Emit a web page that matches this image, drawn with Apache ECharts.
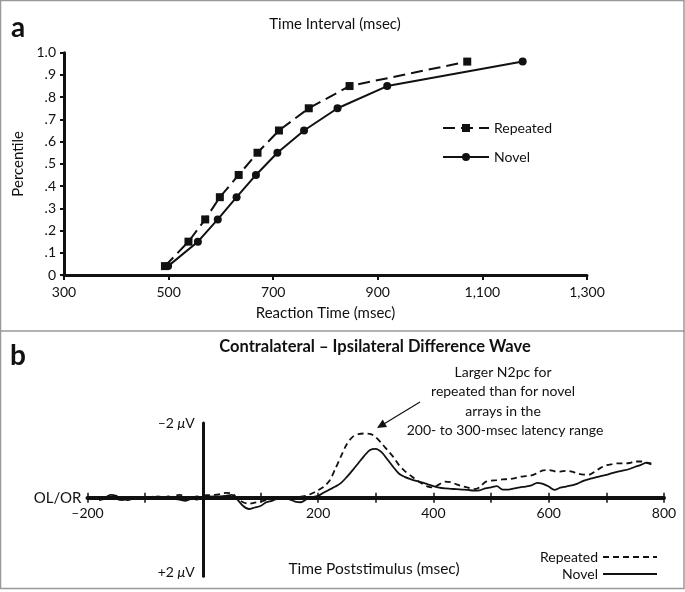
<!DOCTYPE html>
<html>
<head>
<meta charset="utf-8">
<script src="https://cdn.jsdelivr.net/npm/echarts@6/dist/echarts.min.js"></script>
<style>
html,body{margin:0;padding:0;background:#fff;}
#c{width:685px;height:592px;}
</style>
</head>
<body>
<div id="c"></div>
<script>
// ---- Panel a data ----
const percentiles = [0.04, 0.15, 0.25, 0.35, 0.45, 0.55, 0.65, 0.75, 0.85, 0.96];
const rtRepeated = [493, 538, 570, 598, 634, 670, 711, 768, 846, 1071];
const rtNovel = [499, 556, 594, 630, 667, 708, 759, 823, 918, 1177];
const rtTicks = [300, 500, 700, 900, 1100, 1300];

// ---- Panel b data (time in msec, voltage in microvolts; negative up) ----
const waveTime = [-180,-170,-160,-150,-140,-130,-120,-110,-100,-90,-80,-70,-60,-50,-40,-30,-20,-10,
  0,10,20,30,40,50,60,70,80,90,100,110,120,130,140,150,160,170,180,190,
  200,210,220,230,240,250,260,270,280,290,300,310,320,330,340,350,360,370,380,390,
  400,410,420,430,440,450,460,470,480,490,500,510,520,530,540,550,560,570,580,590,
  600,610,620,630,640,650,660,670,680,690,700,710,720,730,740,750,760,770,778];
const waveRepeated = [0.06,0.03,-0.02,0.04,0.06,0.02,-0.02,0.01,0.03,-0.02,-0.04,-0.02,0.02,-0.05,-0.08,-0.03,0.04,0.05,
  -0.06,-0.07,-0.08,-0.10,-0.13,-0.12,0.02,0.12,0.16,0.13,0.10,0.06,0.03,0.00,0.00,0.01,-0.01,-0.03,-0.06,-0.12,
  -0.20,-0.30,-0.46,-0.78,-1.12,-1.44,-1.63,-1.70,-1.72,-1.71,-1.62,-1.46,-1.28,-1.10,-0.88,-0.72,-0.60,-0.48,-0.38,-0.30,
  -0.28,-0.36,-0.43,-0.42,-0.36,-0.31,-0.27,-0.23,-0.28,-0.42,-0.46,-0.47,-0.49,-0.50,-0.52,-0.56,-0.58,-0.60,-0.66,-0.73,
  -0.74,-0.71,-0.70,-0.72,-0.70,-0.65,-0.62,-0.62,-0.70,-0.80,-0.87,-0.90,-0.92,-0.92,-0.93,-0.97,-0.97,-0.93,-0.89];
const waveNovel = [0.03,0.00,-0.08,-0.05,0.04,0.06,0.02,0.00,0.03,0.00,-0.03,0.00,-0.04,0.02,0.05,0.08,0.02,-0.04,
  0.00,-0.03,-0.04,-0.04,-0.05,-0.08,0.05,0.22,0.30,0.26,0.22,0.12,0.08,0.02,0.00,0.04,0.10,0.12,0.04,-0.02,
  -0.05,-0.14,-0.22,-0.30,-0.40,-0.56,-0.74,-0.93,-1.12,-1.28,-1.31,-1.22,-1.03,-0.83,-0.65,-0.56,-0.50,-0.45,-0.41,-0.36,
  -0.31,-0.27,-0.25,-0.24,-0.23,-0.22,-0.21,-0.19,-0.20,-0.25,-0.28,-0.31,-0.22,-0.22,-0.25,-0.28,-0.30,-0.33,-0.40,-0.37,
  -0.30,-0.21,-0.27,-0.30,-0.33,-0.38,-0.45,-0.50,-0.54,-0.58,-0.61,-0.66,-0.70,-0.73,-0.77,-0.83,-0.88,-0.94,-0.92];

const FONT = 'Lato, "Open Sans", "Noto Sans", sans-serif';
const INK = '#111';

// Panel b geometry (grid box); axes are shifted into the grid to cross at (0 msec, 0 uV)
const GB = {left: 87.5, top: 423, width: 576.5, height: 153.3, tMin: -200, tMax: 800, vMin: -2, vMax: 2.1};
const xZeroOffset = -(GB.height * (GB.vMax - 0) / (GB.vMax - GB.vMin));   // move x axis up to v = 0
const yZeroOffset = -(GB.width * (0 - GB.tMin) / (GB.tMax - GB.tMin));    // move y axis right to t = 0

function zip(a, b) { return a.map((v, i) => [v, b[i]]); }

const chart = echarts.init(document.getElementById('c'), null, {renderer: 'canvas'});

const option = {
  backgroundColor: '#fff',
  animation: false,
  textStyle: {fontFamily: FONT, color: INK},
  grid: [
    {left: 64, top: 52.7, width: 523, height: 222.3, outerBoundsMode: 'none', containLabel: false},
    {left: GB.left, top: GB.top, width: GB.width, height: GB.height, outerBoundsMode: 'none', containLabel: false},
    {left: GB.left, top: GB.top, width: GB.width, height: GB.height, outerBoundsMode: 'none', containLabel: false}
  ],
  xAxis: [
    {
      gridIndex: 0, type: 'value', min: rtTicks[0], max: rtTicks[rtTicks.length - 1], interval: 200,
      axisLine: {show: true, lineStyle: {color: INK, width: 3}},
      axisTick: {show: true, length: 5, lineStyle: {color: INK, width: 2}},
      axisLabel: {color: INK, fontSize: 14, fontFamily: FONT, margin: 10,
        formatter: v => v >= 1000 ? Math.floor(v / 1000) + ',' + String(v % 1000).padStart(3, '0') : String(v)},
      splitLine: {show: false},
      name: 'Reaction Time (msec)', nameLocation: 'middle', nameGap: 31,
      nameTextStyle: {fontSize: 15, color: INK, fontFamily: FONT}
    },
    {
      gridIndex: 1, type: 'value', min: GB.tMin, max: GB.tMax, interval: 100, position: 'bottom',
      offset: xZeroOffset,
      axisLine: {show: true, onZero: false, lineStyle: {color: INK, width: 4}},
      axisTick: {show: true, length: 5, lineStyle: {color: INK, width: 1.5}},
      axisLabel: {color: INK, fontSize: 14, fontFamily: FONT, margin: 9,
        formatter: v => (v === 0 || v % 200 !== 0) ? '' : (v < 0 ? '\u2013' + Math.abs(v) : String(v))},
      splitLine: {show: false},
      name: 'OL/OR', nameLocation: 'start', nameGap: 6,
      nameTextStyle: {fontSize: 15, color: INK, fontFamily: FONT}
    },
    {
      gridIndex: 2, type: 'value', min: GB.tMin, max: GB.tMax, interval: 100, position: 'bottom',
      offset: xZeroOffset,
      axisLine: {show: false, onZero: false},
      axisTick: {show: true, inside: true, length: 5, lineStyle: {color: INK, width: 1.5}},
      axisLabel: {show: false},
      splitLine: {show: false}
    }
  ],
  yAxis: [
    {
      gridIndex: 0, type: 'value', min: 0, max: 1, interval: 0.1,
      axisLine: {show: true, lineStyle: {color: INK, width: 3}},
      axisTick: {show: true, length: 4, lineStyle: {color: INK, width: 2}},
      axisLabel: {color: INK, fontSize: 14, fontFamily: FONT, margin: 8,
        formatter: v => {
          const k = Math.round(v * 10);
          if (k === 0) return '0';
          if (k === 10) return '1.0';
          return '.' + k;
        }},
      splitLine: {show: false},
      name: 'Percentile', nameLocation: 'middle', nameGap: 38, nameRotate: 90,
      nameTextStyle: {fontSize: 15, color: INK, fontFamily: FONT}
    },
    {
      gridIndex: 1, type: 'value', min: GB.vMin, max: GB.vMax, interval: 2, inverse: true,
      position: 'left', offset: yZeroOffset,
      axisLine: {show: true, onZero: false, lineStyle: {color: INK, width: 3}},
      axisTick: {show: false},
      axisLabel: {color: INK, fontSize: 14, fontFamily: FONT, margin: 8,
        formatter: v => v === -2 ? '{n|\u20132 }{m|\u03bc}{n|V}' : (v === 2 ? '{n|+2 }{m|\u03bc}{n|V}' : ''),
        rich: {
          n: {fontSize: 14, fontFamily: FONT, color: INK},
          m: {fontSize: 14, fontFamily: FONT, color: INK, fontStyle: 'italic'}
        }},
      splitLine: {show: false}
    },
    {
      gridIndex: 2, type: 'value', min: GB.vMin, max: GB.vMax, inverse: true, show: false
    }
  ],
  legend: [
    {
      data: ['Repeated', 'Novel'],
      orient: 'vertical', left: 437, top: 116, itemWidth: 46, itemHeight: 10, itemGap: 15,
      textStyle: {fontSize: 14, color: INK, fontFamily: FONT},
      selectedMode: false
    },
    {
      data: ['Repeated (b)', 'Novel (b)'],
      orient: 'vertical', right: 27, top: 550, align: 'right', itemWidth: 54, itemHeight: 10, itemGap: 3,
      padding: 0,
      itemStyle: {opacity: 0},
      textStyle: {fontSize: 14, color: INK, fontFamily: FONT},
      formatter: n => n.replace(' (b)', ''),
      selectedMode: false
    }
  ],
  series: [
    {
      name: 'Repeated', type: 'line', xAxisIndex: 0, yAxisIndex: 0,
      data: zip(rtRepeated, percentiles),
      symbol: 'rect', symbolSize: 8,
      itemStyle: {color: INK},
      lineStyle: {color: INK, width: 2, type: [12, 6]}
    },
    {
      name: 'Novel', type: 'line', xAxisIndex: 0, yAxisIndex: 0,
      data: zip(rtNovel, percentiles),
      symbol: 'circle', symbolSize: 8,
      itemStyle: {color: INK},
      lineStyle: {color: INK, width: 2}
    },
    {
      name: 'Repeated (b)', type: 'line', xAxisIndex: 1, yAxisIndex: 1,
      data: zip(waveTime, waveRepeated), symbol: 'none', smooth: 0.3,
      itemStyle: {color: INK},
      lineStyle: {color: INK, width: 1.8, type: [6, 4]}
    },
    {
      name: 'Novel (b)', type: 'line', xAxisIndex: 1, yAxisIndex: 1,
      data: zip(waveTime, waveNovel), symbol: 'none', smooth: 0.3,
      itemStyle: {color: INK},
      lineStyle: {color: INK, width: 1.8}
    }
  ],
  graphic: [
    {type: 'rect', shape: {x: 0.5, y: 0.5, width: 683.5, height: 588}, style: {fill: 'none', stroke: '#999', lineWidth: 1.5}, silent: true},
    {type: 'line', shape: {x1: 0, y1: 331, x2: 685, y2: 331}, style: {stroke: '#999', lineWidth: 1.5}, silent: true},
    {type: 'text', x: 18, y: 28, style: {text: 'a', font: 'bold 28px ' + FONT, fill: INK, align: 'center', verticalAlign: 'middle'}},
    {type: 'text', x: 335, y: 24, style: {text: 'Time Interval (msec)', font: '15px ' + FONT, fill: INK, align: 'center', verticalAlign: 'middle'}},
    {type: 'text', x: 18, y: 356, style: {text: 'b', font: 'bold 28px ' + FONT, fill: INK, align: 'center', verticalAlign: 'middle'}},
    {type: 'text', x: 375, y: 347, style: {text: 'Contralateral \u2013 Ipsilateral Difference Wave', font: 'bold 16.5px ' + FONT, fill: INK, align: 'center', verticalAlign: 'middle'}},
    {type: 'text', x: 503, y: 372, style: {text: 'Larger N2pc for', font: '14px ' + FONT, fill: INK, align: 'center', verticalAlign: 'middle'}},
    {type: 'text', x: 503, y: 391.5, style: {text: 'repeated than for novel', font: '14px ' + FONT, fill: INK, align: 'center', verticalAlign: 'middle'}},
    {type: 'text', x: 503, y: 411, style: {text: 'arrays in the', font: '14px ' + FONT, fill: INK, align: 'center', verticalAlign: 'middle'}},
    {type: 'text', x: 505, y: 430, style: {text: '200- to 300-msec latency range', font: '14px ' + FONT, fill: INK, align: 'center', verticalAlign: 'middle'}},
    {type: 'text', x: 374, y: 569, style: {text: 'Time Poststimulus (msec)', font: '15.5px ' + FONT, fill: INK, align: 'center', verticalAlign: 'middle'}},
    {type: 'line', shape: {x1: 420, y1: 402, x2: 383, y2: 424.5}, style: {stroke: INK, lineWidth: 1.2}, silent: true},
    {type: 'polygon', shape: {points: [[377, 428], [387, 426.9], [382.7, 419.6]]}, style: {fill: INK}, silent: true}
  ]
};

chart.setOption(option);
</script>
</body>
</html>
